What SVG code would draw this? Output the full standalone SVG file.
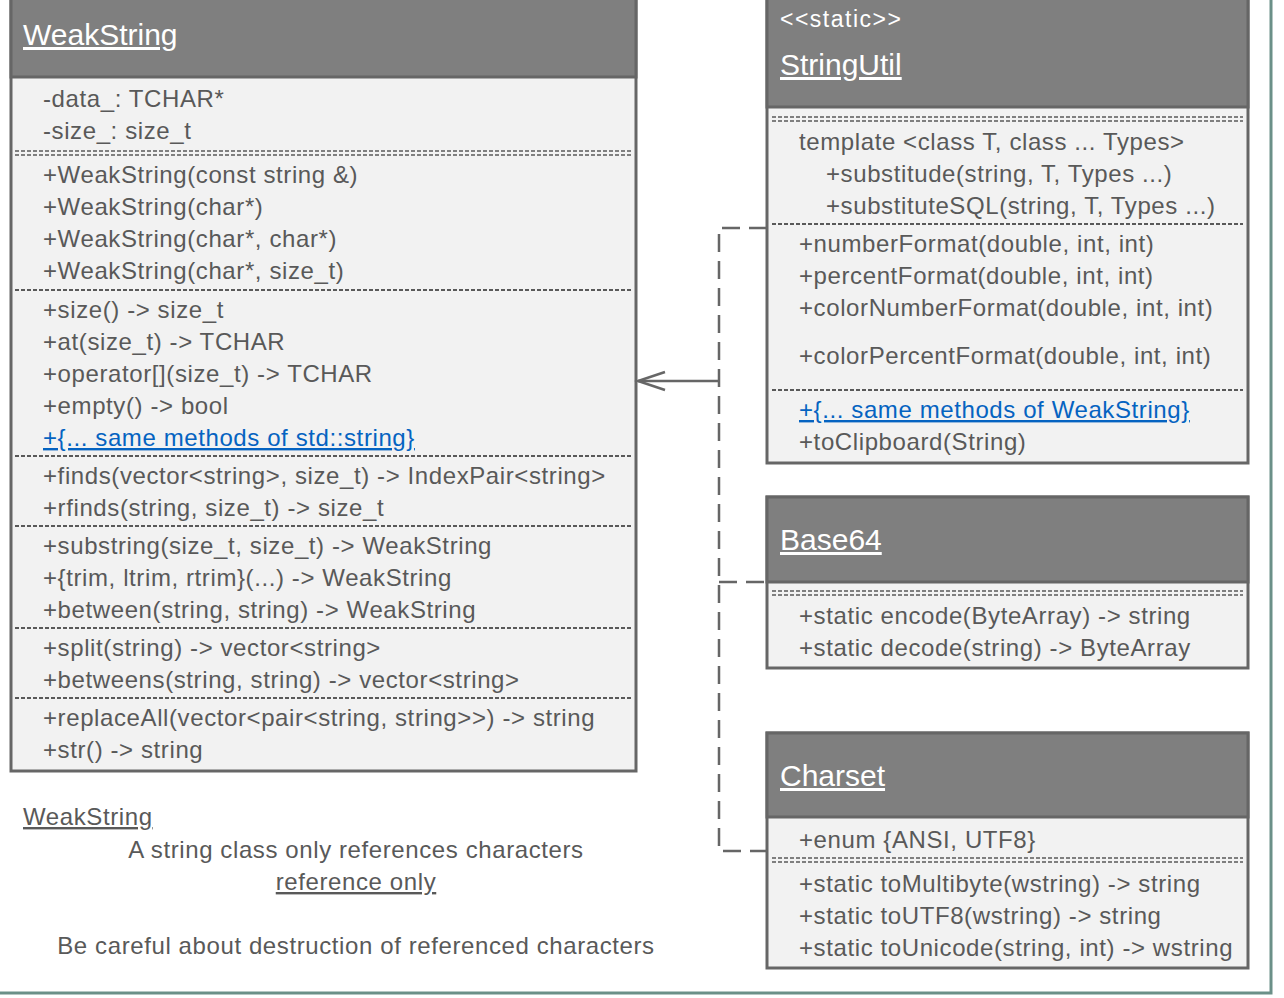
<svg xmlns="http://www.w3.org/2000/svg" width="1284" height="998" viewBox="0 0 1284 998">
<style>
.hdr{fill:#7f7f7f;stroke:#666666;stroke-width:3}
.body{fill:#f2f2f2;stroke:#666666;stroke-width:3}
.t{font-family:"Liberation Sans",Arial,sans-serif;font-size:24px;letter-spacing:0.6px;fill:#595959}
.title{font-family:"Liberation Sans",Arial,sans-serif;font-size:30px;fill:#ffffff;text-decoration:underline}
.st{font-family:"Liberation Sans",Arial,sans-serif;font-size:23px;letter-spacing:1.5px;fill:#ffffff}
.link{fill:#0563c1;text-decoration:underline}
.sep{stroke:#595959;stroke-width:2;stroke-dasharray:4 2;fill:none}
.dsep{stroke:#595959;stroke-width:1.5;stroke-dasharray:4 2;fill:none}
.conn{stroke:#666666;stroke-width:2.5;fill:none}
.dash{stroke-dasharray:18 9}
</style>
<rect x="-10" y="-10" width="1281" height="1003" fill="#ffffff" stroke="#6b9088" stroke-width="3"/>

<g id="WeakString">
<rect class="body" x="11" y="-10" width="625" height="781"/>
<rect class="hdr" x="11" y="-10" width="625" height="87"/>
<text class="title" x="23" y="45">WeakString</text>
<text class="t" x="43" y="107">-data_: TCHAR*</text>
<text class="t" x="43" y="139">-size_: size_t</text>
<line class="dsep" x1="15" y1="151" x2="631" y2="151"/>
<line class="dsep" x1="15" y1="155" x2="631" y2="155"/>
<text class="t" x="43" y="183">+WeakString(const string &amp;)</text>
<text class="t" x="43" y="215">+WeakString(char*)</text>
<text class="t" x="43" y="247">+WeakString(char*, char*)</text>
<text class="t" x="43" y="279">+WeakString(char*, size_t)</text>
<line class="sep" x1="15" y1="290" x2="631" y2="290"/>
<text class="t" x="43" y="318">+size() -&gt; size_t</text>
<text class="t" x="43" y="350">+at(size_t) -&gt; TCHAR</text>
<text class="t" x="43" y="382">+operator[](size_t) -&gt; TCHAR</text>
<text class="t" x="43" y="414">+empty() -&gt; bool</text>
<text class="t link" x="43" y="446">+{... same methods of std::string}</text>
<line class="sep" x1="15" y1="456" x2="631" y2="456"/>
<text class="t" x="43" y="484">+finds(vector&lt;string&gt;, size_t) -&gt; IndexPair&lt;string&gt;</text>
<text class="t" x="43" y="516">+rfinds(string, size_t) -&gt; size_t</text>
<line class="sep" x1="15" y1="526" x2="631" y2="526"/>
<text class="t" x="43" y="554">+substring(size_t, size_t) -&gt; WeakString</text>
<text class="t" x="43" y="586">+{trim, ltrim, rtrim}(...) -&gt; WeakString</text>
<text class="t" x="43" y="618">+between(string, string) -&gt; WeakString</text>
<line class="sep" x1="15" y1="628" x2="631" y2="628"/>
<text class="t" x="43" y="656">+split(string) -&gt; vector&lt;string&gt;</text>
<text class="t" x="43" y="688">+betweens(string, string) -&gt; vector&lt;string&gt;</text>
<line class="sep" x1="15" y1="698" x2="631" y2="698"/>
<text class="t" x="43" y="726">+replaceAll(vector&lt;pair&lt;string, string&gt;&gt;) -&gt; string</text>
<text class="t" x="43" y="758">+str() -&gt; string</text>
</g>

<g id="StringUtil">
<rect class="body" x="767" y="-10" width="481" height="473"/>
<rect class="hdr" x="767" y="-10" width="481" height="117"/>
<text class="st" x="780" y="27">&lt;&lt;static&gt;&gt;</text>
<text class="title" x="780" y="75">StringUtil</text>
<line class="dsep" x1="772" y1="117" x2="1243" y2="117"/>
<line class="dsep" x1="772" y1="121" x2="1243" y2="121"/>
<text class="t" x="799" y="150">template &lt;class T, class ... Types&gt;</text>
<text class="t" x="826" y="182">+substitude(string, T, Types ...)</text>
<text class="t" x="826" y="214">+substituteSQL(string, T, Types ...)</text>
<line class="sep" x1="772" y1="224" x2="1243" y2="224"/>
<text class="t" x="799" y="252">+numberFormat(double, int, int)</text>
<text class="t" x="799" y="284">+percentFormat(double, int, int)</text>
<text class="t" x="799" y="316">+colorNumberFormat(double, int, int)</text>
<text class="t" x="799" y="364">+colorPercentFormat(double, int, int)</text>
<line class="sep" x1="772" y1="390" x2="1243" y2="390"/>
<text class="t link" x="799" y="418">+{... same methods of WeakString}</text>
<text class="t" x="799" y="450">+toClipboard(String)</text>
</g>

<g id="Base64">
<rect class="body" x="767" y="497" width="481" height="171"/>
<rect class="hdr" x="767" y="497" width="481" height="85"/>
<text class="title" x="780" y="550">Base64</text>
<line class="dsep" x1="772" y1="591" x2="1243" y2="591"/>
<line class="dsep" x1="772" y1="595" x2="1243" y2="595"/>
<text class="t" x="799" y="624">+static encode(ByteArray) -&gt; string</text>
<text class="t" x="799" y="656">+static decode(string) -&gt; ByteArray</text>
</g>

<g id="Charset">
<rect class="body" x="767" y="733" width="481" height="235"/>
<rect class="hdr" x="767" y="733" width="481" height="84"/>
<text class="title" x="780" y="786">Charset</text>
<text class="t" x="799" y="848">+enum {ANSI, UTF8}</text>
<line class="dsep" x1="772" y1="858" x2="1243" y2="858"/>
<line class="dsep" x1="772" y1="862" x2="1243" y2="862"/>
<text class="t" x="799" y="892">+static toMultibyte(wstring) -&gt; string</text>
<text class="t" x="799" y="924">+static toUTF8(wstring) -&gt; string</text>
<text class="t" x="799" y="956">+static toUnicode(string, int) -&gt; wstring</text>
</g>

<g id="note">
<text class="t" x="23" y="825" style="text-decoration:underline">WeakString</text>
<text class="t" x="356" y="858" text-anchor="middle">A string class only references characters</text>
<text class="t" x="356" y="890" text-anchor="middle" style="text-decoration:underline">reference only</text>
<text class="t" x="356" y="954" text-anchor="middle">Be careful about destruction of referenced characters</text>
</g>

<g id="connectors">
<path class="conn dash" d="M767,228 H719 V851 H767"/>
<path class="conn dash" d="M719,582 H767"/>
<path class="conn" d="M719,381 H638"/>
<path class="conn" d="M665,372 L638,381 L665,390"/>
</g>
</svg>
